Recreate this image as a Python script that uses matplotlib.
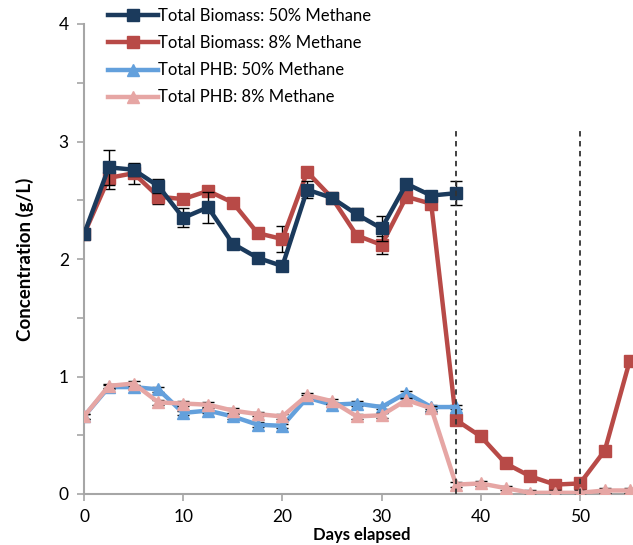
import matplotlib
matplotlib.use("Agg")
import matplotlib.pyplot as plt
from matplotlib.lines import Line2D
from matplotlib.ticker import MultipleLocator

plt.rcParams['font.family'] = ['Lato', 'DejaVu Sans']

# Sampling days
days_a = [0, 2.5, 5, 7.5, 10, 12.5, 15, 17.5, 20, 22.5, 25, 27.5, 30, 32.5, 35, 37.5]
days_b = days_a + [40, 42.5, 45, 47.5, 50, 52.5, 55]

# Total biomass (g/L)
bio_50 = [2.21, 2.78, 2.76, 2.62, 2.35, 2.44, 2.13, 2.01, 1.94, 2.59, 2.52, 2.38, 2.26, 2.64, 2.54, 2.56]
bio_50_err = [0.0, 0.15, 0.05, 0.06, 0.08, 0.13, 0.0, 0.0, 0.0, 0.07, 0.0, 0.05, 0.11, 0.0, 0.0, 0.1]
bio_8 = [2.21, 2.69, 2.73, 2.53, 2.51, 2.58, 2.48, 2.22, 2.17, 2.74, 2.52, 2.20, 2.12, 2.53, 2.47,
         0.63, 0.49, 0.26, 0.15, 0.08, 0.09, 0.37, 1.13]
bio_8_err = [0.0, 0.09, 0.09, 0.06, 0.0, 0.0, 0.0, 0.0, 0.11, 0.0, 0.0, 0.0, 0.08, 0.0, 0.0,
             0.0, 0.0, 0.0, 0.0, 0.0, 0.0, 0.0, 0.0]

# Total PHB (g/L)
phb_50 = [0.66, 0.91, 0.91, 0.89, 0.69, 0.71, 0.66, 0.59, 0.58, 0.82, 0.76, 0.77, 0.74, 0.86, 0.74, 0.74]
phb_8 = [0.66, 0.92, 0.94, 0.78, 0.77, 0.76, 0.71, 0.68, 0.66, 0.84, 0.79, 0.66, 0.67, 0.80, 0.73,
         0.08, 0.09, 0.05, 0.01, 0.01, 0.01, 0.03, 0.03]
phb_err = 0.02

# Gas switch days
switch_days = [37.5, 50]
switch_top = 3.1

x_ticks = [0, 10, 20, 30, 40, 50]
y_ticks = [0, 1, 2, 3, 4]

labels = ['Total Biomass: 50% Methane', 'Total Biomass: 8% Methane',
          'Total PHB: 50% Methane', 'Total PHB: 8% Methane']

navy = '#1b3a5c'
red = '#b84a47'
lblue = '#63a0dc'
pink = '#e6a6a4'

fig = plt.figure(figsize=(6.33, 5.45), dpi=100)
ax = fig.add_axes([84 / 633, 51 / 545, 56 * 9.92 / 633, 470 / 545])

ekw = dict(ecolor='black', elinewidth=1.0, capsize=4, capthick=1.0)
lw = 3.2

ax.errorbar(days_a, bio_50, yerr=bio_50_err, color=navy, lw=lw, marker='s', ms=8, zorder=4, **ekw)
ax.errorbar(days_b, bio_8, yerr=bio_8_err, color=red, lw=lw, marker='s', ms=8, zorder=3, **ekw)
ax.errorbar(days_a, phb_50, yerr=phb_err, color=lblue, lw=lw, marker='^', ms=9, zorder=3, **ekw)
ax.errorbar(days_b, phb_8, yerr=phb_err, color=pink, lw=lw, marker='^', ms=9, zorder=4, **ekw)

for d in switch_days:
    ax.plot([d, d], [0, switch_top], color='#333333', lw=1.3, ls=(0, (3, 2.5)), zorder=5)

ax.set_xlim(0, 56)
ax.set_ylim(0, 4)
ax.set_xticks(x_ticks)
ax.set_yticks(y_ticks)
ax.yaxis.set_minor_locator(MultipleLocator(0.5))
ax.tick_params(axis='both', which='both', direction='out', color='#a6a6a6',
               length=5, width=1.2, labelsize=12.5, pad=6)
for side in ['top', 'right']:
    ax.spines[side].set_visible(False)
for side in ['left', 'bottom']:
    ax.spines[side].set_color('#a6a6a6')
    ax.spines[side].set_linewidth(1.5)

ax.set_xlabel('Days elapsed', fontsize=12, fontweight='bold', labelpad=1)
ax.set_ylabel('Concentration (g/L)', fontsize=13.5, fontweight='bold', labelpad=18)

handles = [
    Line2D([], [], color=navy, lw=lw, marker='s', ms=8),
    Line2D([], [], color=red, lw=lw, marker='s', ms=8),
    Line2D([], [], color=lblue, lw=lw, marker='^', ms=8),
    Line2D([], [], color=pink, lw=lw, marker='^', ms=8),
]
fig.legend(handles, labels, loc='upper left', bbox_to_anchor=(108 / 633, 1 - 8 / 545),
           frameon=False, fontsize=12, handlelength=3.0, handletextpad=0.0,
           labelspacing=0.67, borderaxespad=0, borderpad=0)

fig.savefig('out.png', dpi=100)
